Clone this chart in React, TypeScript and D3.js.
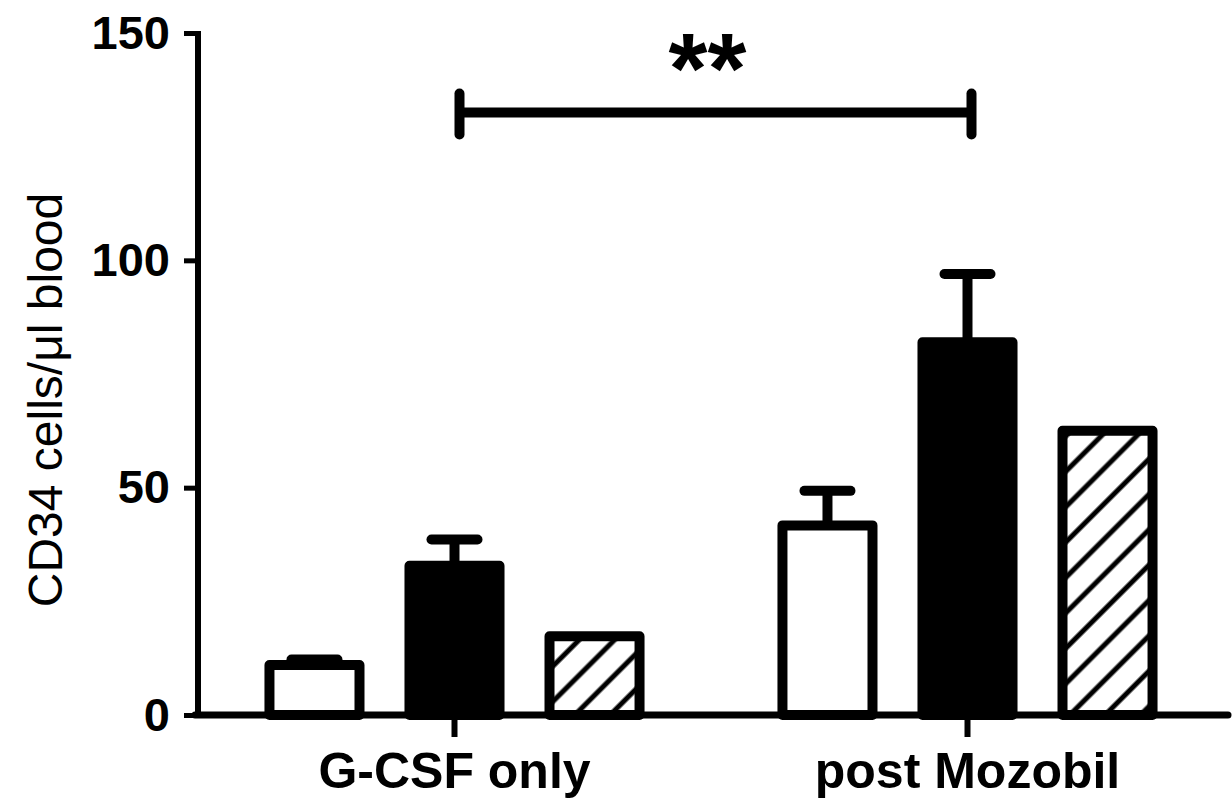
import { useEffect, useRef } from 'react';
import * as d3 from 'd3';

// CD34 counts per group, three treatment arms (open / solid / hatched)
const groups = ['G-CSF only', 'post Mozobil'];
const seriesKeys = ['open', 'solid', 'hatched'];
const openMeans = [11.0, 41.7];
const openErr = [1.2, 7.6];
const solidMeans = [32.8, 82.0];
const solidErr = [5.8, 15.0];
const hatchedMeans = [17.3, 62.5];
const hatchedErr: (number | null)[] = [null, null];
const yTicks = [0, 50, 100, 150];
const yLabel = 'CD34 cells/\u03bcl blood';
const sigLevel = 132.5;
const sigLabel = '**';

const WIDTH = 1232;
const HEIGHT = 802;
const FONT = "'Liberation Sans', Arial, Helvetica, sans-serif";

export default function App() {
  const svgRef = useRef<SVGSVGElement>(null);

  useEffect(() => {
    document.body.style.margin = '0';
    if (!svgRef.current) return;
    const svg = d3.select(svgRef.current);
    svg.selectAll('*').remove();

    const left = 198;
    const right = 1228;
    const top = 33;
    const bottom = 715;

    const y = d3.scaleLinear().domain([0, 150]).range([bottom, top]);
    const x0 = d3.scaleBand<string>()
      .domain(groups)
      .range([left, 1224])
      .paddingInner(0.2)
      .paddingOuter(0.1);
    const x1 = d3.scaleBand<string>()
      .domain(seriesKeys)
      .range([0, x0.bandwidth()])
      .paddingInner(0.357)
      .paddingOuter(0.144);

    const means: Record<string, number[]> = { open: openMeans, solid: solidMeans, hatched: hatchedMeans };
    const errs: Record<string, (number | null)[]> = { open: openErr, solid: solidErr, hatched: hatchedErr };

    // hatch pattern
    const defs = svg.append('defs');
    const pat = defs.append('pattern')
      .attr('id', 'hatch')
      .attr('patternUnits', 'userSpaceOnUse')
      .attr('width', 25)
      .attr('height', 25)
      .attr('patternTransform', 'rotate(45)');
    pat.append('rect').attr('width', 25).attr('height', 25).attr('fill', '#fff');
    pat.append('line')
      .attr('x1', 12).attr('y1', 0).attr('x2', 12).attr('y2', 25)
      .attr('stroke', '#000').attr('stroke-width', 5);

    const fillFor = (k: string) => (k === 'open' ? '#fff' : k === 'solid' ? '#000' : 'url(#hatch)');

    const rows = groups.flatMap((g, gi) =>
      seriesKeys.map(k => ({ group: g, key: k, value: means[k][gi], err: errs[k][gi] }))
    );

    // bars
    svg.append('g')
      .selectAll('rect')
      .data(rows)
      .join('rect')
      .attr('x', d => (x0(d.group) ?? 0) + (x1(d.key) ?? 0))
      .attr('y', d => y(d.value))
      .attr('width', x1.bandwidth())
      .attr('height', d => y(0) - y(d.value))
      .attr('fill', d => fillFor(d.key))
      .attr('stroke', '#000')
      .attr('stroke-width', 10)
      .attr('stroke-linejoin', 'round');

    // error bars (upper only)
    const eb = svg.append('g')
      .attr('stroke', '#000')
      .attr('stroke-width', 10)
      .attr('stroke-linecap', 'round');
    rows.filter(d => d.err != null).forEach(d => {
      const cx = (x0(d.group) ?? 0) + (x1(d.key) ?? 0) + x1.bandwidth() / 2;
      eb.append('line')
        .attr('x1', cx).attr('x2', cx)
        .attr('y1', y(d.value)).attr('y2', y(d.value + (d.err as number)))
        .attr('stroke-linecap', 'butt');
      eb.append('line')
        .attr('x1', cx - 23).attr('x2', cx + 23)
        .attr('y1', y(d.value + (d.err as number))).attr('y2', y(d.value + (d.err as number)));
    });

    // y axis
    const yAxis = svg.append('g')
      .attr('transform', `translate(${left},0)`)
      .call(d3.axisLeft(y).tickValues(yTicks).tickSize(14).tickPadding(14));
    yAxis.select('.domain').remove();
    yAxis.selectAll('.tick line').attr('stroke', '#000').attr('stroke-width', 5);
    yAxis.selectAll('.tick text')
      .attr('fill', '#000')
      .style('font-family', FONT)
      .style('font-weight', 'bold')
      .style('font-size', '47px');
    yAxis.append('line')
      .attr('x1', 0).attr('x2', 0)
      .attr('y1', y(150) - 2).attr('y2', y(0) + 3)
      .attr('stroke', '#000').attr('stroke-width', 6);

    // x axis
    const xAxis = svg.append('g')
      .attr('transform', `translate(0,${bottom})`)
      .call(d3.axisBottom(x0).tickSize(22).tickPadding(15));
    xAxis.select('.domain').remove();
    xAxis.selectAll('.tick line').attr('stroke', '#000').attr('stroke-width', 6);
    xAxis.selectAll('.tick text')
      .attr('fill', '#000')
      .style('font-family', FONT)
      .style('font-weight', 'bold')
      .style('font-size', '50px');
    xAxis.append('line')
      .attr('x1', left - 3).attr('x2', right)
      .attr('y1', 0).attr('y2', 0)
      .attr('stroke', '#000').attr('stroke-width', 7)
      .attr('stroke-linecap', 'round');

    // y label
    svg.append('text')
      .attr('transform', `translate(62,${(top + bottom) / 2 + 26}) rotate(-90)`)
      .attr('text-anchor', 'middle')
      .attr('fill', '#000')
      .style('font-family', FONT)
      .style('font-size', '48px')
      .text(yLabel);

    // significance bracket
    const bx1 = (x0(groups[0]) ?? 0) + x0.bandwidth() / 2 + 5;
    const bx2 = (x0(groups[1]) ?? 0) + x0.bandwidth() / 2 + 4;
    const by = y(sigLevel);
    const br = svg.append('g')
      .attr('stroke', '#000')
      .attr('stroke-width', 10)
      .attr('stroke-linecap', 'round');
    br.append('line').attr('x1', bx1).attr('x2', bx2).attr('y1', by).attr('y2', by).attr('stroke-linecap', 'butt');
    br.append('line').attr('x1', bx1).attr('x2', bx1).attr('y1', by - 19).attr('y2', by + 22);
    br.append('line').attr('x1', bx2).attr('x2', bx2).attr('y1', by - 19).attr('y2', by + 22);
    svg.append('text')
      .attr('x', (bx1 + bx2) / 2 - 8)
      .attr('y', 103)
      .attr('text-anchor', 'middle')
      .attr('fill', '#000')
      .style('font-family', FONT)
      .style('font-weight', 'bold')
      .style('font-size', '100px')
      .text(sigLabel);
  }, []);

  return (
    <div>
      <svg ref={svgRef} width={WIDTH} height={HEIGHT} style={{ display: 'block', background: '#fff' }} />
    </div>
  );
}
